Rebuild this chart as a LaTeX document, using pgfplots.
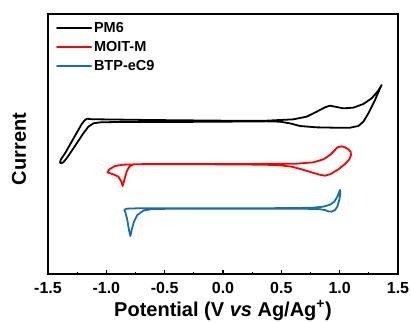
\documentclass[border=0pt]{standalone}
\usepackage{fontspec}
\setmainfont{Liberation Sans}
\usepackage{pgfplots}
\pgfplotsset{compat=1.18}
\definecolor{cvblue}{RGB}{20,110,180}
\definecolor{cvred}{RGB}{255,0,0}
\begin{document}
\begin{tikzpicture}
\begin{axis}[
  at={(0pt,0pt)}, anchor=south west,
  scale only axis, width=350pt, height=260pt,
  xmin=-1.5, xmax=1.5, ymin=0, ymax=780,
  xtick={-1.5,-1,-0.5,0,0.5,1,1.5}, minor x tick num=1,
  ytick=\empty,
  xtick pos=lower, tick align=inside,
  major tick length=4pt, minor tick length=2.5pt,
  every tick/.style={black, line width=1.2pt},
  axis line style={line width=2pt},
  xticklabel style={font=\fontsize{16}{18}\selectfont\bfseries, anchor=base, yshift=-19pt},
  /pgf/number format/assume math mode=true,
  /pgf/number format/fixed, /pgf/number format/fixed zerofill, /pgf/number format/precision=1,
  xlabel={Potential (V \textit{vs} Ag/Ag\textsuperscript{+})},
  ylabel={Current},
  every axis x label/.style={at={(axis description cs:0.5,0)}, anchor=base, yshift=-42.5pt},
  every axis y label/.style={at={(axis description cs:0,0.5)}, xshift=-29pt, yshift=-5pt, anchor=center, rotate=90},
  label style={font=\fontsize{20}{24}\selectfont\bfseries},
  legend style={draw=none, fill=none, at={(axis description cs:0,1)}, anchor=north west, xshift=6pt, yshift=-4pt, font=\fontsize{14.5}{16}\selectfont\bfseries, row sep=3.5pt, inner sep=2pt},
  legend cell align=left,
  legend image code/.code={\draw[#1, line width=1.8pt] plot coordinates {(0pt,0pt) (34pt,0pt)};},
  every axis plot/.append style={line width=1.8pt, line join=round, line cap=round},
]
\addplot[black] coordinates {
(0.003,460) (0.374,460) (0.603,464) (0.717,472) (0.803,487) (0.874,500) (0.917,505) (0.96,502) (1.031,497) (1.117,499) (1.203,510) (1.274,527) (1.331,550) (1.36,567)
(1.346,557) (1.303,522) (1.246,482) (1.203,457) (1.16,444) (1.089,439) (0.946,439) (0.803,440) (0.66,444) (0.574,452) (0.489,457) (0.374,458) (0.003,457) (-0.483,456) (-0.911,456) (-1.054,455) (-1.111,452) (-1.154,442) (-1.197,422) (-1.254,392) (-1.311,362) (-1.34,347) (-1.369,335) (-1.389,332) (-1.397,335) (-1.389,344) (-1.354,362) (-1.297,397) (-1.24,432) (-1.211,450) (-1.183,462) (-1.163,466) (-1.126,464) (-1.054,464) (-0.626,462) (0.003,460)
};
\addlegendentry{PM6}
\addplot[cvred] coordinates {
(-0.369,330) (0.203,330) (0.631,331) (0.774,335) (0.86,344) (0.917,357) (0.96,372) (0.98,380) (1.017,383) (1.046,380) (1.074,374) (1.094,367) (1.097,357) (1.083,344) (1.046,330) (0.989,314) (0.923,300) (0.874,295) (0.826,298) (0.76,305) (0.674,314) (0.589,322) (0.489,326) (0.346,328) (-0.083,329) (-0.654,329) (-0.769,329) (-0.803,322) (-0.826,307) (-0.846,282) (-0.86,264) (-0.871,277) (-0.897,292) (-0.94,299) (-0.991,305) (-0.974,314) (-0.926,324) (-0.854,328) (-0.654,330) (-0.369,330)
};
\addlegendentry{MOIT-M}
\addplot[cvblue] coordinates {
(-0.369,197) (0.203,197) (0.631,198) (0.774,199) (0.86,202) (0.917,208) (0.954,217) (0.98,232) (0.997,247) (1.003,252) (1.006,242) (0.997,222) (0.98,202) (0.96,192) (0.931,187) (0.903,188) (0.874,192) (0.817,195) (0.631,196) (0.203,196) (-0.369,196) (-0.611,195) (-0.683,190) (-0.734,177) (-0.763,157) (-0.783,132) (-0.794,114) (-0.806,132) (-0.82,162) (-0.834,182) (-0.846,192) (-0.826,196) (-0.74,197) (-0.369,197)
};
\addlegendentry{BTP-eC9}
\end{axis}
\pgfresetboundingbox
\path[use as bounding box] (-48pt,-48pt) rectangle (363pt,274pt);
\end{tikzpicture}
\end{document}
